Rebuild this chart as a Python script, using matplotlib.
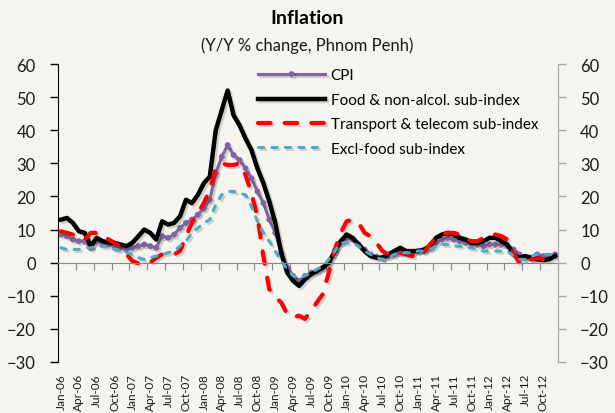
import numpy as np
import matplotlib
matplotlib.use("Agg")
import matplotlib.pyplot as plt
import matplotlib.patheffects as pe

# monthly data, Jan-06 .. Dec-12 (Y/Y % change)
months = [m + "-" + y for y in ["06", "07", "08", "09", "10", "11", "12"]
          for m in ["Jan", "Feb", "Mar", "Apr", "May", "Jun",
                    "Jul", "Aug", "Sep", "Oct", "Nov", "Dec"]]

cpi = [8.5, 8, 7, 6.5, 6.5, 4.5, 6.5, 6, 5.5, 5, 4.5, 4,
       4.5, 5, 5.5, 5, 4.5, 8, 7.5, 8.5, 10.5, 12, 13, 14.5,
       16.5, 19, 27, 32, 35.5, 32.5, 31, 28.5, 25.5, 21.5, 18, 13,
       9, 3, -1.5, -4, -5.5, -4, -3, -2.5, -1.5, 0, 3.5, 6,
       7.5, 7, 5.5, 4, 2.5, 1.8, 1.5, 2, 2.5, 3, 3, 3,
       3.5, 3.5, 4.5, 6, 7, 7.5, 7, 6.5, 6, 5.5, 5.5, 5,
       5.5, 5.5, 5.5, 5, 4, 2.5, 1.5, 1.5, 2.5, 2, 2, 2.5]

food = [13, 13.5, 12, 9.5, 9, 5, 7.5, 6.5, 6, 6, 5.5, 5,
        6, 8, 10, 9, 7, 12.5, 11.5, 12, 14, 19, 18, 20.5,
        24, 26, 40, 46, 52, 44.5, 41.5, 37.5, 34, 28.5, 24, 18.5,
        12, 3, -3, -5.5, -7, -5, -3.5, -2.5, -1.5, 0, 3.5, 6.5,
        8.5, 7.5, 5.5, 3.5, 2, 1.5, 1.5, 2.5, 3.5, 4.5, 3.5, 3.5,
        3.5, 4, 5, 7.5, 8.5, 9, 8.5, 7.5, 7, 6, 6, 6.5,
        7.5, 7.5, 6.5, 5.5, 2.5, 1.5, 2, 1.5, 1, 0.8, 1, 2]

transport = [9.5, 9, 8.5, 7.5, 7, 9, 9, 8.5, 7, 6, 4.5, 2.5,
             0.5, -0.2, -0.5, 0, 1.5, 2.5, 2.5, 2.5, 3.5, 8, 12, 15,
             18, 22, 28.5, 30, 29.5, 29.5, 30, 26.5, 21, 14, 2, -8,
             -10.5, -12, -15.5, -16.5, -16, -17, -14.5, -12, -9.5, -3, 4, 9,
             12.5, 13, 12, 9, 8, 6, 3.5, 2.5, 3, 3, 2.5, 2,
             2.5, 3, 5.5, 7.5, 8.5, 9, 9, 8.5, 7, 6.5, 6.5, 7.5,
             8, 8.5, 8, 7, 3, 0, -0.5, 1, 1.5, 1, 1, 2]

excl_food = [4.5, 4, 4, 4, 4.5, 4.5, 5, 5, 4.5, 4, 3.5, 3,
             2.5, 1.5, 1, 1.5, 2, 2.5, 3, 3.5, 5, 6.5, 9, 10.5,
             12, 13, 17.5, 20.5, 21.5, 21.5, 21, 20.5, 17, 12.5, 9, 6.5,
             3.5, 0.5, -2, -4, -4.5, -4, -3, -2, -1, 1, 3.5, 6,
             6, 6, 5, 3.5, 2.5, 1.5, 1, 1.5, 2.5, 3, 3, 3,
             3.5, 3.5, 4, 5, 5.5, 5.5, 5, 5, 4.5, 4.5, 4, 3.5,
             3.5, 3.5, 3.5, 3.5, 2, 1, 1, 2, 2.5, 2.5, 2.5, 2.5]

labels = ["CPI", "Food & non-alcol. sub-index",
          "Transport & telecom sub-index", "Excl-food sub-index"]

plt.rcParams['font.family'] = ['Lato', 'DejaVu Sans']
bg = '#f5f4ef'

fig = plt.figure(figsize=(6.15, 4.14), dpi=100, facecolor=bg)
ax = fig.add_axes([58/615, 1-363/414, 500/615, 298/414], facecolor=bg)

x = np.arange(len(months))
shadow = [pe.SimpleLineShadow(offset=(1.5, -1.5), shadow_color='k', alpha=0.15), pe.Normal()]

ax.plot(x, cpi, color='#8064A2', lw=2.2, marker='o', ms=3.2, label=labels[0],
        path_effects=shadow)
ax.plot(x, food, color='black', lw=3.2, label=labels[1], solid_joinstyle='round',
        path_effects=shadow)
ax.plot(x, transport, color='#FF0000', lw=3.0, dashes=(3.0, 3.4), dash_capstyle='round',
        label=labels[2], path_effects=shadow)
ax.plot(x, excl_food, color='#4BACC6', lw=2.2, dashes=(1.7, 2.7), dash_capstyle='round',
        label=labels[3], path_effects=shadow)

ax.set_xlim(-0.5, len(months) - 0.5)
ax.set_ylim(-30, 60)
ax.set_yticks(np.arange(-30, 61, 10))

# left axis
ax.spines['left'].set_color('black')
ax.spines['top'].set_visible(False)
ax.spines['right'].set_visible(False)
ax.tick_params(axis='y', direction='out', length=6, width=1, labelsize=12, pad=10,
               colors='black', labelcolor='#1a1a1a')

# horizontal axis at zero with ticks between categories
ax.spines['bottom'].set_position(('data', 0))
ax.spines['bottom'].set_color('#868686')
ax.set_xticks(np.arange(-0.5, len(months), 3))
ax.tick_params(axis='x', direction='out', length=5, color='#868686', labelbottom=False)

# category labels at the bottom
sec = ax.secondary_xaxis(0.0)
sec.set_xticks(x[::3], [months[i] for i in x[::3]], rotation=90, fontsize=8.5, color='#1a1a1a')
sec.tick_params(length=0, pad=8)
sec.spines['bottom'].set_visible(False)

# right axis mirror
ax2 = ax.twinx()
ax2.set_ylim(-30, 60)
ax2.set_yticks(np.arange(-30, 61, 10))
for s in ['left', 'top', 'bottom']:
    ax2.spines[s].set_visible(False)
ax2.spines['right'].set_color('#a6a6a6')
ax2.tick_params(axis='y', direction='out', length=6, width=1, labelsize=12, pad=10,
                colors='#a6a6a6', labelcolor='#1a1a1a')

leg = ax.legend(loc='upper left', bbox_to_anchor=(0.4, 0.985), frameon=False, fontsize=11,
                handlelength=4.4, handletextpad=0.35, labelspacing=0.68, borderpad=0,
                borderaxespad=0)

fig.text(0.5, 1-18/414, "Inflation", ha='center', va='center', fontsize=14,
         fontweight='bold', color='black')
fig.text(0.5, 1-46/414, "(Y/Y % change, Phnom Penh)", ha='center', va='center',
         fontsize=12, color='#1a1a1a')

fig.savefig('out.png', dpi=100, facecolor=bg)
